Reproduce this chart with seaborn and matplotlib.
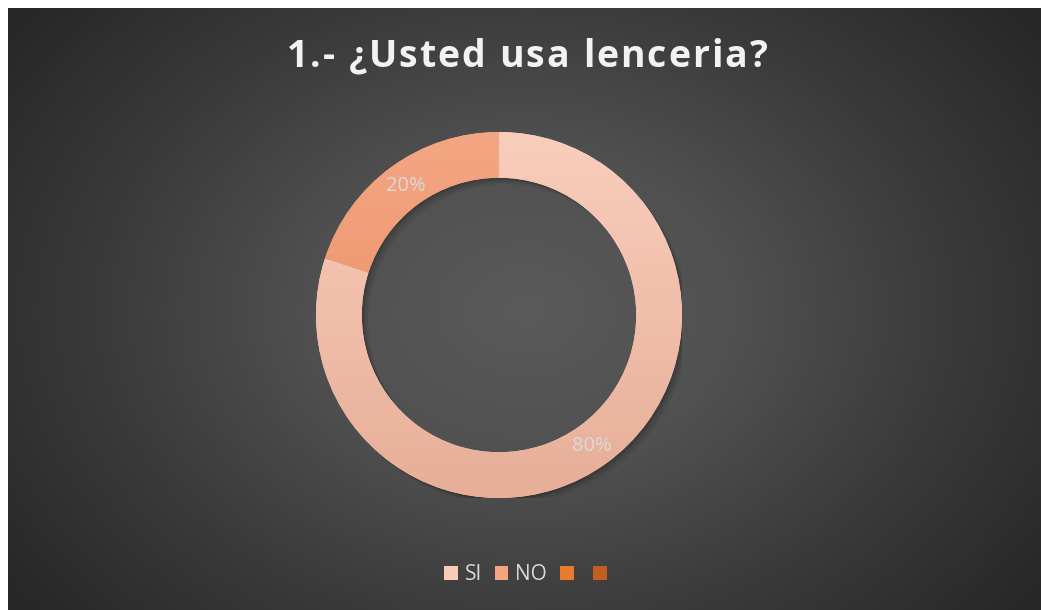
import numpy as np
import matplotlib
matplotlib.use("Agg")
import matplotlib.pyplot as plt
import matplotlib.patches as mpatches
from matplotlib.colors import LinearSegmentedColormap
import seaborn as sns

# datos
categorias = ["SI", "NO", "", ""]
porcentajes = [80, 20, 0, 0]
etiquetas = ["80%", "20%"]
titulo = "1.- ¿Usted usa lenceria?"

colores = ["#F8CAB7", "#F4A47F", "#E87B2D", "#C45D21"]
gradientes = [("#F9CEBC", "#E7AE98"), ("#F4A683", "#E8885E")]

sns.set_style("dark")
plt.rcParams["font.family"] = ["Open Sans", "DejaVu Sans"]

W, H = 1041, 610
fig = plt.figure(figsize=(W / 100, H / 100), dpi=100)
fig.patch.set_facecolor("white")

# fondo con degradado radial
bg = fig.add_axes([8 / W, 0, 1 - 8 / W, 1 - 8 / H])
bg.set_axis_off()
yy, xx = np.mgrid[0:300, 0:520]
d = np.sqrt(((xx / 520 - 0.5) / 0.62) ** 2 + ((yy / 300 - 0.5) / 0.8) ** 2)
d = np.clip(d, 0, 1)
fondo = LinearSegmentedColormap.from_list("fondo", ["#5A5A5A", "#505050", "#3A3A3A", "#272727"])
bg.imshow(d, cmap=fondo, aspect="auto", extent=(0, 1, 0, 1), vmin=0, vmax=1)
bg.set_xlim(0, 1)
bg.set_ylim(0, 1)

# titulo con espaciado entre letras
renderer = fig.canvas.get_renderer()
t_size = 27
extra = 2.0
anchos = []
for i in range(1, len(titulo) + 1):
    t = fig.text(0, 0, titulo[:i], fontsize=t_size, fontweight="bold")
    anchos.append(t.get_window_extent(renderer).width)
    t.remove()
total_w = anchos[-1] + extra * (len(titulo) - 1)
x0 = 527 - total_w / 2
prev = 0
for i, ch in enumerate(titulo):
    fig.text((x0 + prev + extra * i) / W, 1 - 57 / H, ch, fontsize=t_size, fontweight="bold",
             color="#F2F2F2", ha="left", va="center")
    prev = anchos[i]

# anillo
r_px = 183
cxp, cyp = 499, 315
ax = fig.add_axes([(cxp - r_px) / W, 1 - (cyp + r_px) / H, 2 * r_px / W, 2 * r_px / H])
ax.set_axis_off()
ancho = 0.25

# sombra suave
for k, a in enumerate([0.12, 0.08, 0.05]):
    off = 0.012 * (k + 1)
    sombra = mpatches.Wedge((off, -off), 1.0, 0, 360, width=ancho, facecolor="black",
                            edgecolor="none", alpha=a)
    ax.add_patch(sombra)

wedges, _ = ax.pie(porcentajes[:2], startangle=90, counterclock=False,
                   colors=colores[:2], wedgeprops=dict(width=ancho, edgecolor="none"))

grad = np.linspace(0, 1, 256).reshape(-1, 1)
for w, (c_top, c_bot) in zip(wedges, gradientes):
    cm = LinearSegmentedColormap.from_list("g", [c_top, c_bot])
    im = ax.imshow(grad, cmap=cm, extent=(-1, 1, -1, 1), aspect="auto", zorder=w.get_zorder() + 0.1)
    im.set_clip_path(w)

ax.set_xlim(-1, 1)
ax.set_ylim(-1, 1)

# etiquetas de porcentaje
ax.text(0.505, -0.715, etiquetas[0], ha="center", va="center", fontsize=14.5, color="#D9D9D9", zorder=5)
ax.text(-0.51, 0.705, etiquetas[1], ha="center", va="center", fontsize=14.5, color="#D9D9D9", zorder=5)

# leyenda
handles = [mpatches.Patch(facecolor=c, edgecolor="none") for c in colores]
leg = fig.legend(handles, categorias, loc="center", bbox_to_anchor=(529 / W, 1 - 575 / H),
                 ncol=4, frameon=False, fontsize=15, handlelength=0.65, handleheight=0.65,
                 handletextpad=0.33, columnspacing=0.62)
for t in leg.get_texts():
    t.set_color("#D9D9D9")

fig.savefig("out.png", dpi=100, facecolor=fig.get_facecolor())
